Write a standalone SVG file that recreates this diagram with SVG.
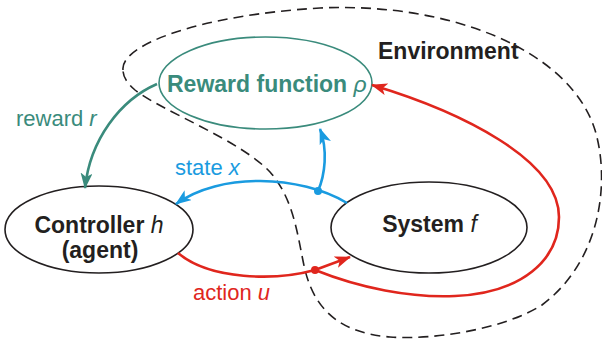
<svg xmlns="http://www.w3.org/2000/svg" width="602" height="339" viewBox="0 0 602 339">
<style>
text{font-family:"Liberation Sans",Arial,sans-serif;font-size:22px}
.big{font-size:23px}
.b{font-weight:bold}
.i{font-style:italic;font-weight:normal}
.node{fill:#fff;stroke:#231f20;stroke-width:1.6}
.conn{fill:none;stroke-width:2.6}
.teal{stroke:#3a8b7c}
.blue{stroke:#1a9be0}
.red{stroke:#e0261d}
.env{fill:none;stroke:#231f20;stroke-width:1.6;stroke-dasharray:10 6}
</style>
<defs>
<marker id="aT" markerUnits="userSpaceOnUse" markerWidth="16" markerHeight="12" refX="15" refY="6" orient="auto"><path d="M0,0 L16,6 L0,12 L4,6 z" fill="#3a8b7c"/></marker>
<marker id="aB" markerUnits="userSpaceOnUse" markerWidth="16" markerHeight="12" refX="15" refY="6" orient="auto"><path d="M0,0 L16,6 L0,12 L4,6 z" fill="#1a9be0"/></marker>
<marker id="aR" markerUnits="userSpaceOnUse" markerWidth="16" markerHeight="12" refX="15" refY="6" orient="auto"><path d="M0,0 L16,6 L0,12 L4,6 z" fill="#e0261d"/></marker>
</defs>
<g id="environment">
<path class="env" d="M123,70 C120,45 200,15 320,8 C450,2 570,50 595,130 C610,180 602,260 542,305 C502,330 432,340 390,337 C340,333 315,310 305,270 C298,240 295,200 270,172 C240,140 160,110 135,90 C127,83 123,77 123,70 Z"/>
<text class="b big" x="378" y="59" fill="#231f20">Environment</text>
</g>
<g id="reward">
<ellipse cx="265.5" cy="83" rx="106.5" ry="46" fill="none" stroke="#3a8b7c" stroke-width="1.6"/>
<text class="big" x="167" y="92" fill="#3a8b7c"><tspan class="b">Reward function </tspan><tspan class="i">ρ</tspan></text>
</g>
<g id="controller">
<ellipse class="node" cx="99" cy="229.5" rx="94" ry="43.5"/>
<text class="big" x="99" y="233" text-anchor="middle" fill="#231f20"><tspan class="b">Controller </tspan><tspan class="i">h</tspan></text>
<text class="b big" x="100" y="258" text-anchor="middle" fill="#231f20">(agent)</text>
</g>
<g id="system">
<ellipse class="node" cx="429" cy="227.5" rx="98" ry="45.5"/>
<text class="big" x="429.5" y="232" text-anchor="middle" fill="#231f20"><tspan class="b">System </tspan><tspan class="i">f</tspan></text>
</g>
<g id="connectors">
<path class="conn teal" d="M157,84 C120,100 90,140 85,188" marker-end="url(#aT)"/>
<text x="16" y="126" fill="#3a8b7c">reward <tspan class="i">r</tspan></text>
<path class="conn blue" d="M347,203 C300,175 220,172 176,204" marker-end="url(#aB)"/>
<path class="conn blue" d="M318,191 C325,175 328,150 320,129" marker-end="url(#aB)"/>
<circle cx="318" cy="191" r="4" fill="#1a9be0"/>
<text x="175" y="175" fill="#1a9be0">state <tspan class="i">x</tspan></text>
<path class="conn red" d="M178,253 C210,280 275,281 315,270"/>
<path class="conn red" d="M315,270 L350,257" marker-end="url(#aR)"/>
<path class="conn red" d="M315,270 C360,288 410,298 455,296 C522,293 559,260 559,217 C559,160 462,112 372,85" marker-end="url(#aR)"/>
<circle cx="315" cy="270" r="4" fill="#e0261d"/>
<text x="193" y="300" fill="#e0261d">action <tspan class="i">u</tspan></text>
</g>
</svg>
